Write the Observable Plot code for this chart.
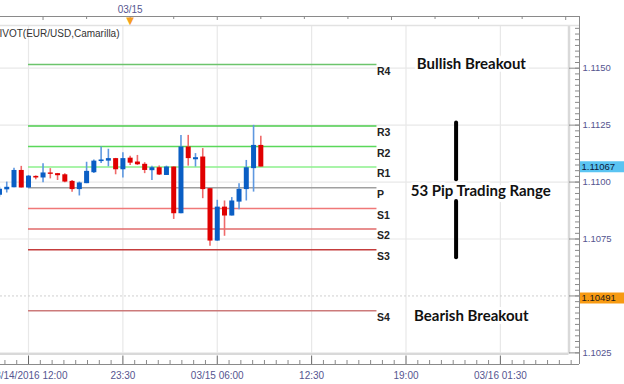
<!DOCTYPE html>
<html><head><meta charset="utf-8">
<script src="https://cdn.jsdelivr.net/npm/d3@7"></script>
<script src="https://cdn.jsdelivr.net/npm/@observablehq/plot@0.6"></script>
<style>html,body{margin:0;padding:0;background:#fff;} #chart svg{display:block}</style>
</head><body><div id="chart"></div>
<script>
// ---- data ----
const barIndex = d3.range(1, 38);
const open  = [1.10942,1.10966,1.10975,1.11051,1.10974,1.11025,1.11018,1.11040,1.11037,1.11032,1.11003,1.10967,1.10993,1.11041,1.11090,1.11092,1.11103,1.11054,1.11105,1.11088,1.11078,1.11050,1.11063,1.11029,1.11066,1.10861,1.11154,1.11098,1.11110,1.10971,1.10741,1.10890,1.10851,1.10912,1.10967,1.11059,1.11161];
const high  = [1.10977,1.11000,1.11061,1.11069,1.11029,1.11027,1.11081,1.11059,1.11038,1.11037,1.11007,1.11000,1.11087,1.11097,1.11154,1.11144,1.11104,1.11129,1.11113,1.11117,1.11085,1.11069,1.11071,1.11070,1.11067,1.11205,1.11205,1.11125,1.11147,1.10972,1.10920,1.10917,1.10932,1.10993,1.11095,1.11249,1.11201];
const low   = [1.10933,1.10952,1.10975,1.10974,1.10972,1.11010,1.10997,1.11014,1.11007,1.10997,1.10955,1.10939,1.10993,1.11038,1.11082,1.11067,1.11032,1.11018,1.11073,1.11073,1.11037,1.11007,1.11029,1.11029,1.10836,1.10861,1.11070,1.11066,1.10927,1.10718,1.10740,1.10762,1.10851,1.10879,1.10917,1.10956,1.11066];
const close = [1.10968,1.10977,1.11051,1.10974,1.11026,1.11018,1.11040,1.11034,1.11028,1.11000,1.10967,1.10996,1.11047,1.11092,1.11097,1.11103,1.11054,1.11103,1.11083,1.11076,1.11051,1.11063,1.11031,1.11066,1.10861,1.11154,1.11103,1.11107,1.10967,1.10741,1.10890,1.10851,1.10917,1.10968,1.11063,1.11161,1.11066];

const pivotNames  = ["R4","R3","R2","R1","P","S1","S2","S3","S4"];
const pivotValues = [1.11516,1.11246,1.11156,1.11066,1.10975,1.10884,1.10794,1.10703,1.10435];
const pivotStart = 5, pivotEnd = 53;

const timeTickIndex  = [5, 18, 31, 44, 57, 70];
const timeTickLabels = ["03/14/2016 12:00", "23:30", "03/15 06:00", "12:30", "19:00", "03/16 01:30"];
const dayMarkIndex = 19, dayMarkLabel = "03/15";

const priceTicks      = [1.1025, 1.1050, 1.1075, 1.1100, 1.1125, 1.1150];
// 1.1050 label is hidden behind the orange price box in the reference
const priceTickLabels = ["1.1025", "", "1.1075", "1.1100", "1.1125", "1.1150"];
const lastPrice = 1.11067, lastPriceLabel = "1.11067";
const refPrice = 1.10491, refPriceLabel = "1.10491";

const indicatorLabel = "IVOT(EUR/USD,Camarilla)";
const annoText = ["Bullish Breakout", "53 Pip Trading Range", "Bearish Breakout"];
const annoX    = [66.0, 67.3, 66.0];
const annoY    = [1.11519, 1.10959, 1.10412];
const rangeBarX = 63.9;
const rangeBarY1 = [1.11259, 1.10915];
const rangeBarY2 = [1.11010, 1.10668];

// ---- scales / layout ----
const W = 624, H = 384, mL = 0, mR = 45, mT = 16, mB = 20;
const X0 = 1.14, X1 = 80.9, Y0 = 1.10199, Y1 = 1.11727;
const px2x = p => X0 + (p - mL) * (X1 - X0) / (W - mL - mR);
const py2y = p => Y1 - (p - mT) * (Y1 - Y0) / (H - mT - mB);
const FR = px2x(568.5), FT = py2y(25), FB = py2y(353.5);

const candles = barIndex.map((i, k) => ({i, o: open[k], h: high[k], l: low[k], c: close[k], up: close[k] >= open[k]}));
const pivots = pivotNames.map((n, k) => ({n, v: pivotValues[k]}));
const pivotColor = {R4:"#6cc46c",R3:"#4ccc4c",R2:"#5ad85a",R1:"#8cf08c",P:"#a0a0a0",S1:"#f07878",S2:"#e06a6a",S3:"#c43c3c",S4:"#cc7a7a"};
const annos = annoText.map((t, k) => ({t, x: annoX[k], y: annoY[k]}));
const rangeBars = rangeBarY1.map((a, k) => ({y1: a, y2: rangeBarY2[k]}));

const majorStep = 13;
const minorX = d3.range(-2, 47).map(j => 5 + j * majorStep / 8).filter(v => v >= X0 && v <= X1 && ((v - 5) / majorStep) % 1 !== 0);
const minorY = d3.range(0, 60).map(j => 1.1025 + j * 0.00025).filter(v => v < FT && v > FB);
const topTicks = d3.range(1, 81, 6);

const axisColor = "#8a8a8a", labelColor = "#55558f", gridColor = "#e8e8e8";
const font = "Liberation Sans, Arial, sans-serif";

const chart = Plot.plot({
  width: W, height: H,
  marginLeft: mL, marginRight: mR, marginTop: mT, marginBottom: mB,
  x: {type: "linear", domain: [X0, X1], axis: null},
  y: {type: "linear", domain: [Y0, Y1], axis: null},
  style: {background: "white", fontFamily: font, fontSize: "10px", overflow: "hidden"},
  marks: [
    // grid
    Plot.ruleX(timeTickIndex, {x: d => d, y1: FB, y2: FT, stroke: gridColor, strokeWidth: 1.2}),
    Plot.ruleY(priceTicks.filter(v => v !== 1.1050), {y: d => d, x1: X0, x2: FR, stroke: gridColor, strokeWidth: 1.2}),
    Plot.ruleY([1.1050], {y: d => d, x1: X0, x2: FR, stroke: "#cfcfcf", strokeDasharray: "2,2"}),
    // frame
    Plot.ruleX([FR], {x: d => d, y1: FB, y2: FT, stroke: "#d9d9d9", strokeWidth: 2.5}),
    Plot.ruleY([FB], {y: d => d, x1: X0, x2: FR, stroke: "#d9d9d9", strokeWidth: 2}),
    Plot.ruleY([FT], {y: d => d, x1: X0, x2: X1, stroke: "#e2e2e2", strokeWidth: 1.5}),
    // pivot lines
    Plot.ruleY(pivots, {y: "v", x1: pivotStart, x2: pivotEnd, stroke: d => pivotColor[d.n], strokeWidth: 1.6}),
    Plot.text(pivots, {x: pivotEnd, y: "v", text: "n", textAnchor: "start", dx: 0, dy: 7, fontWeight: "bold", fontSize: 10.5, fill: "#222"}),
    // candles
    Plot.ruleX(candles, {x: "i", y1: "l", y2: "h", stroke: d => d.up ? "#5e98e0" : "#ef6a6a", strokeWidth: 1.6}),
    Plot.ruleX(candles, {x: "i", y1: "o", y2: d => Math.abs(d.c - d.o) < 0.00004 ? d.o + (d.up ? 0.00004 : -0.00004) : d.c, stroke: d => d.up ? "#0a5ec4" : "#e00000", strokeWidth: 5}),
    // indicator label
    Plot.text([indicatorLabel], {x: X0, y: FT, text: d => d, textAnchor: "start", dx: -1, dy: 8, fill: "#333", fontSize: 10}),
    // annotations
    Plot.ruleX(rangeBars, {x: rangeBarX, y1: "y1", y2: "y2", stroke: "black", strokeWidth: 4, strokeLinecap: "round"}),
    Plot.text(annos, {x: "x", y: "y", text: "t", fontFamily: "Lato, sans-serif", fontWeight: "bold", fontSize: 15, fill: "#111", stroke: "white", strokeWidth: 6, paintOrder: "stroke"}),
    // right axis
    Plot.ruleX([X1], {x: d => d, y1: Y0, y2: Y1, stroke: axisColor}),
    Plot.ruleY(priceTicks, {y: d => d, x1: px2x(569), x2: X1, stroke: axisColor}),
    Plot.ruleY(minorY, {y: d => d, x1: px2x(575), x2: X1, stroke: axisColor}),
    Plot.text(priceTicks.map((v, k) => ({v, t: priceTickLabels[k]})).filter(d => d.t), {x: px2x(582), y: "v", text: "t", textAnchor: "start", fill: labelColor, fontSize: 9.5}),
    Plot.ruleY([lastPrice], {y: d => d, x1: px2x(580), x2: px2x(624), stroke: "#5ac4f2", strokeWidth: 11}),
    Plot.text([lastPriceLabel], {x: px2x(581), y: lastPrice, text: d => d, textAnchor: "start", fill: "#0d1a3a", fontSize: 9.5}),
    Plot.ruleY([refPrice], {y: d => d, x1: px2x(580), x2: px2x(624), stroke: "#f79a12", strokeWidth: 11}),
    Plot.text([refPriceLabel], {x: px2x(581), y: refPrice, text: d => d, textAnchor: "start", fill: "#1a1a1a", fontSize: 9.5}),
    // bottom axis
    Plot.ruleY([Y0], {y: d => d, x1: X0, x2: X1, stroke: axisColor}),
    Plot.ruleX(timeTickIndex, {x: d => d, y1: Y0, y2: py2y(355.5), stroke: "#666"}),
    Plot.ruleX(minorX, {x: d => d, y1: Y0, y2: py2y(360), stroke: axisColor}),
    Plot.text(timeTickIndex.map((v, k) => ({v, t: timeTickLabels[k]})), {x: "v", y: Y0, text: "t", dy: 11, fill: labelColor, fontSize: 10}),
    // top axis
    Plot.ruleY([Y1], {y: d => d, x1: X0, x2: X1, stroke: axisColor}),
    Plot.ruleX(topTicks, {x: d => d, y1: Y1, y2: d => (d - 7) % 24 === 0 ? py2y(20) : py2y(19), stroke: axisColor}),
    Plot.text([dayMarkLabel], {x: dayMarkIndex, y: Y1, text: d => d, dy: -7, fill: labelColor, fontSize: 10}),
    Plot.text(["\u25BC"], {x: dayMarkIndex, y: Y1, text: d => d, dy: 4, fill: "#f5a020", fontSize: 10, fontFamily: "DejaVu Sans"})
  ]
});
document.getElementById("chart").appendChild(chart);
</script>
</body></html>
